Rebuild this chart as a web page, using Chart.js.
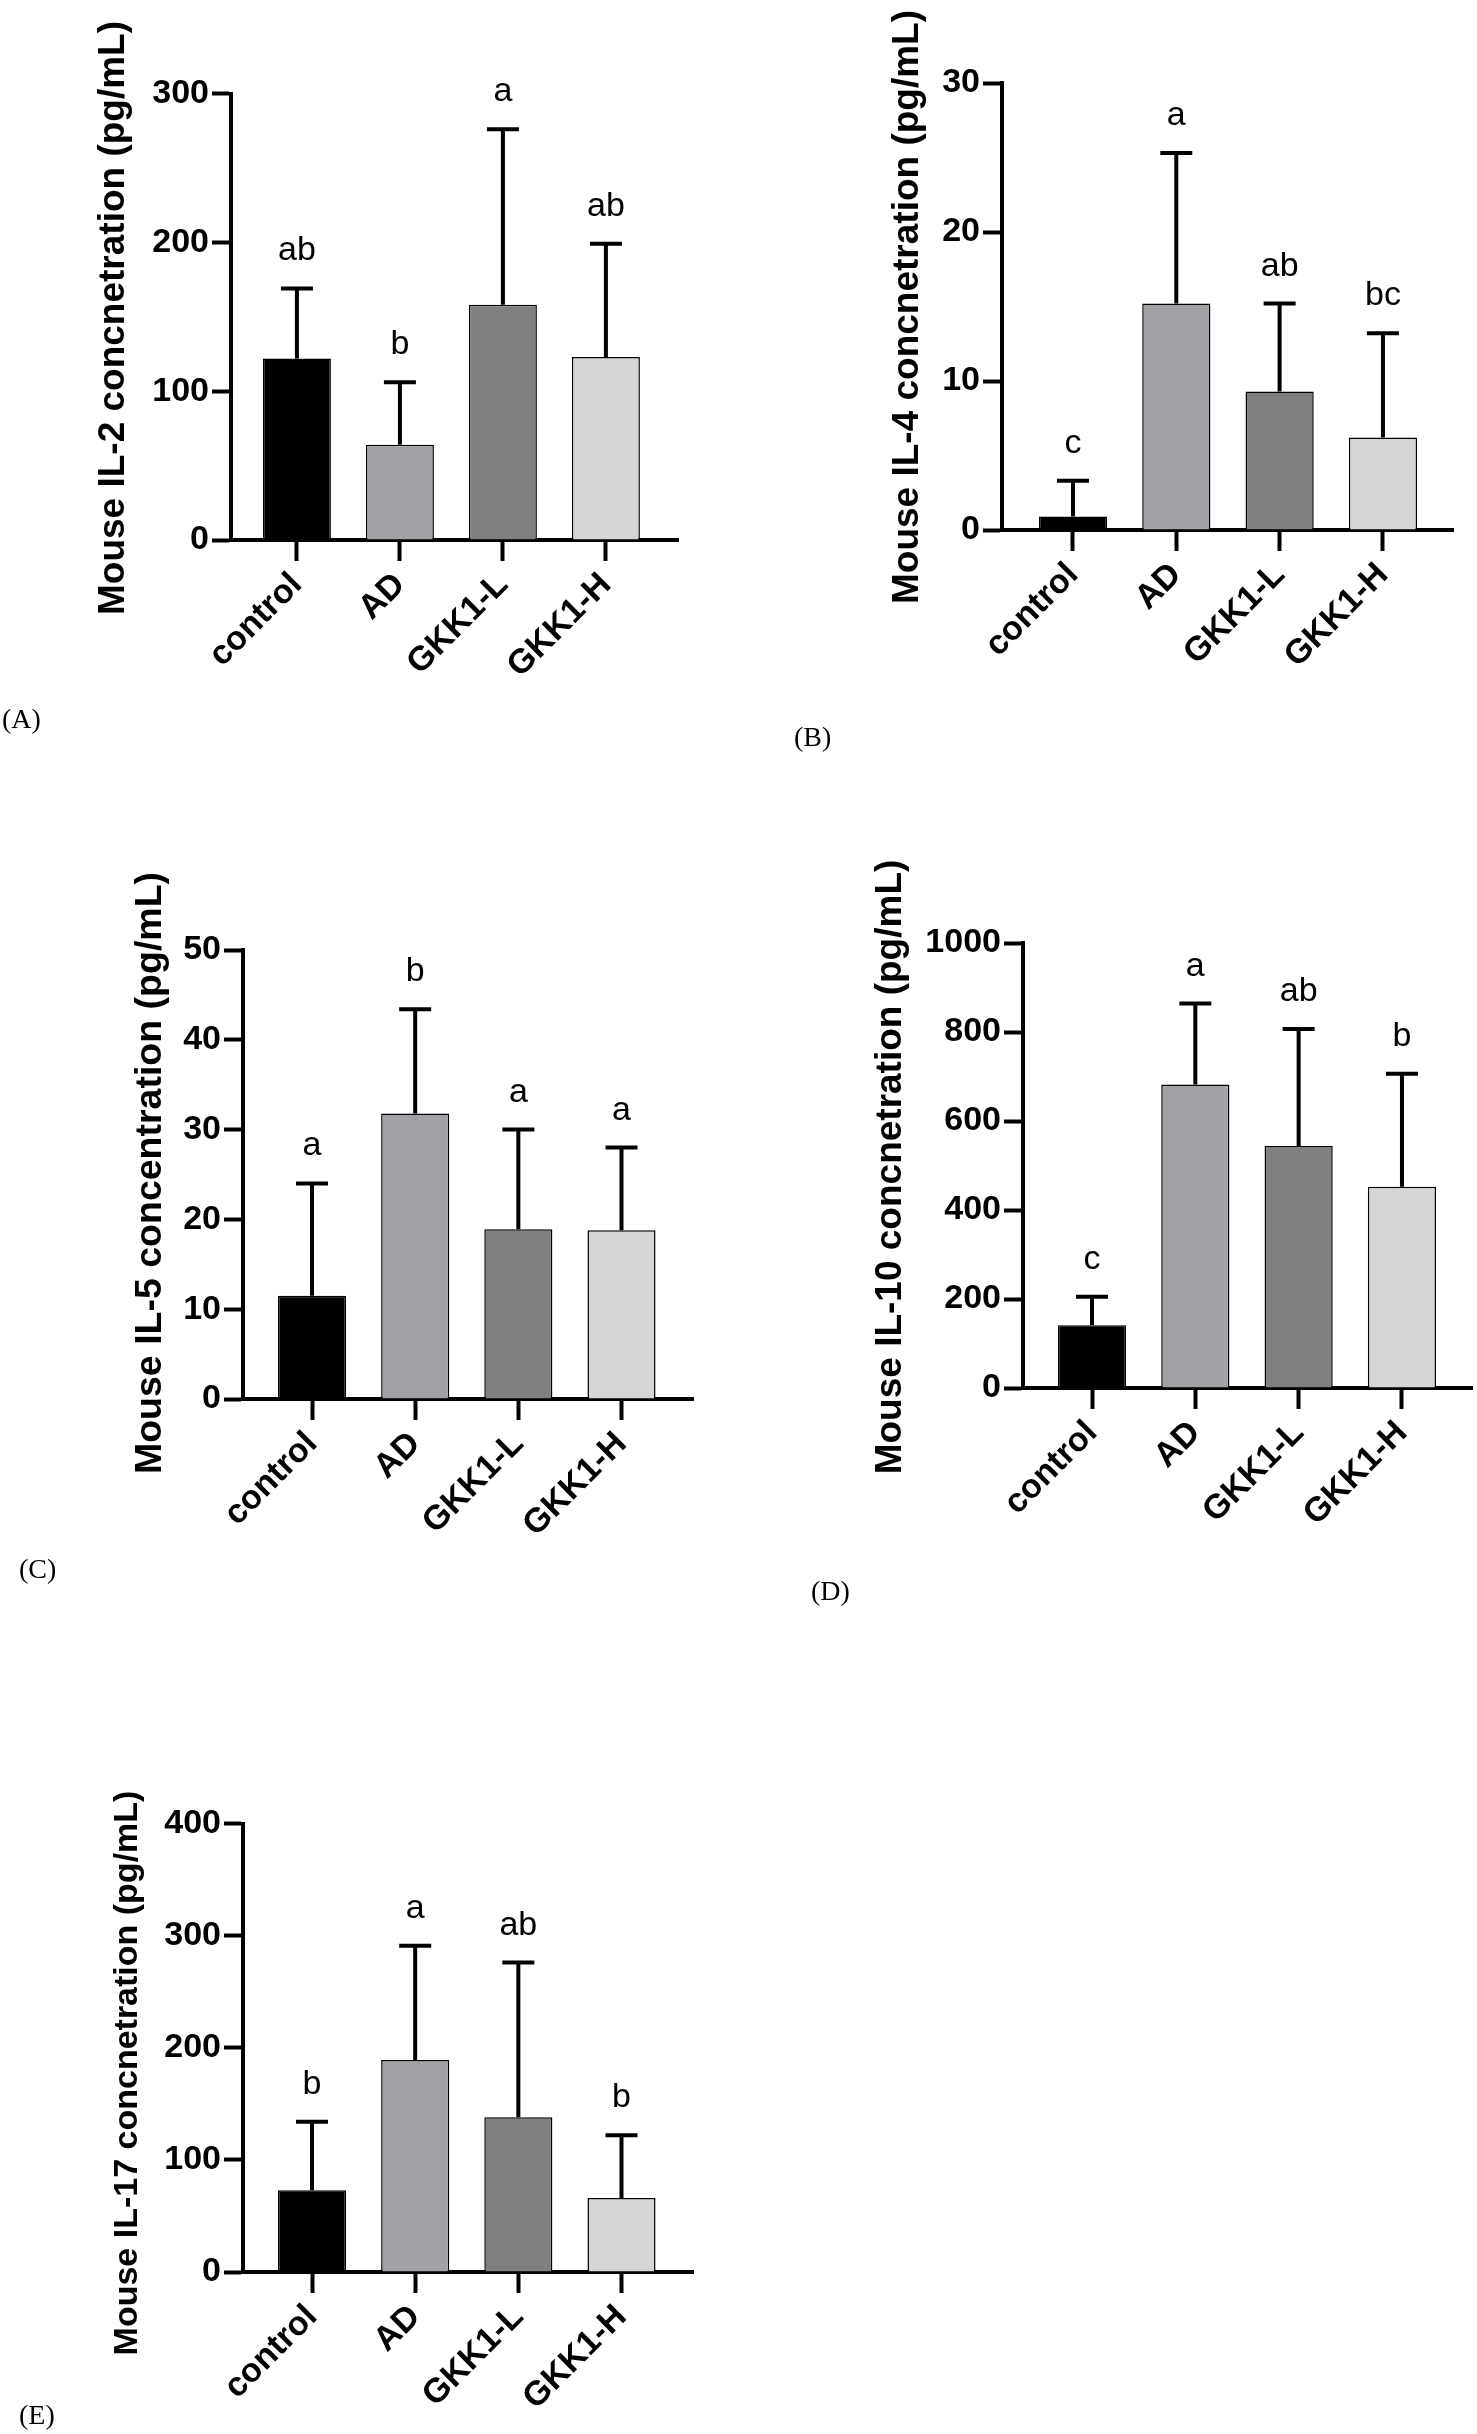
<!DOCTYPE html>
<html>
<head>
<meta charset="utf-8">
<script src="https://cdn.jsdelivr.net/npm/chart.js@4.4.1/dist/chart.umd.min.js"></script>
<style>
  body { margin: 0; background: #fff; }
  #page { position: relative; width: 1477px; height: 2434px; background: #fff; overflow: hidden; }
  #page canvas { position: absolute; }
  .tag { position: absolute; font-family: "Liberation Serif", "Times New Roman", serif; font-size: 28px; color: #000; line-height: 1; }
</style>
</head>
<body>
<div id="page">
  <canvas id="chartA"></canvas>
  <canvas id="chartB"></canvas>
  <canvas id="chartC"></canvas>
  <canvas id="chartD"></canvas>
  <canvas id="chartE"></canvas>
  <div class="tag" style="left:2px; top:705px;">(A)</div>
  <div class="tag" style="left:794px; top:723px;">(B)</div>
  <div class="tag" style="left:19px; top:1555px;">(C)</div>
  <div class="tag" style="left:811px; top:1577px;">(D)</div>
  <div class="tag" style="left:19px; top:2401px;">(E)</div>
</div>
<script>
// groups on the x axis
const groups = ['control', 'AD', 'GKK1-L', 'GKK1-H'];
const barColors = ['#000000', '#a2a1a6', '#808080', '#d5d5d5'];

// IL-2
const il2Mean = [122, 64, 158, 123];
const il2Sd = [47, 42, 118, 76];
const il2Letters = ['ab', 'b', 'a', 'ab'];
const il2Ticks = [0, 100, 200, 300];

// IL-4
const il4Mean = [0.9, 15.2, 9.3, 6.2];
const il4Sd = [2.4, 10.1, 5.9, 7.0];
const il4Letters = ['c', 'a', 'ab', 'bc'];
const il4Ticks = [0, 10, 20, 30];

// IL-5
const il5Mean = [11.5, 31.8, 18.9, 18.8];
const il5Sd = [12.5, 11.6, 11.1, 9.2];
const il5Letters = ['a', 'b', 'a', 'a'];
const il5Ticks = [0, 10, 20, 30, 40, 50];

// IL-10
const il10Mean = [141, 682, 544, 452];
const il10Sd = [64, 182, 263, 254];
const il10Letters = ['c', 'a', 'ab', 'b'];
const il10Ticks = [0, 200, 400, 600, 800, 1000];

// IL-17
const il17Mean = [73, 189, 138, 66];
const il17Sd = [61, 102, 138, 56];
const il17Letters = ['b', 'a', 'ab', 'b'];
const il17Ticks = [0, 100, 200, 300, 400];

const SANS = '"Liberation Sans", Arial, sans-serif';

// where each panel sits on the page
const panels = [
  { id: 'chartA', title: 'Mouse IL-2 concnetration (pg/mL)', mean: il2Mean, sd: il2Sd, letters: il2Letters, ticks: il2Ticks,
    left: 0, top: 0, w: 738, h: 720, axisX: 231, topY: 93.5, zeroY: 540, endX: 678, xMin: -0.64, xMax: 3.70,
    titleX: 114, titleY: 318, titleSize: 37 },
  { id: 'chartB', title: 'Mouse IL-4 concnetration (pg/mL)', mean: il4Mean, sd: il4Sd, letters: il4Letters, ticks: il4Ticks,
    left: 738, top: 0, w: 739, h: 720, axisX: 1002, topY: 83, zeroY: 530, endX: 1453, xMin: -0.687, xMax: 3.678,
    titleX: 908, titleY: 307, titleSize: 37 },
  { id: 'chartC', title: 'Mouse IL-5 concentration (pg/mL)', mean: il5Mean, sd: il5Sd, letters: il5Letters, ticks: il5Ticks,
    left: 0, top: 740, w: 738, h: 840, axisX: 243, topY: 950, zeroY: 1399, endX: 693, xMin: -0.669, xMax: 3.693,
    titleX: 151, titleY: 1173, titleSize: 37.5 },
  { id: 'chartD', title: 'Mouse IL-10 concnetration (pg/mL)', mean: il10Mean, sd: il10Sd, letters: il10Letters, ticks: il10Ticks,
    left: 738, top: 740, w: 739, h: 840, axisX: 1023, topY: 943, zeroY: 1388, endX: 1472, xMin: -0.668, xMax: 3.678,
    titleX: 891, titleY: 1167, titleSize: 37 },
  { id: 'chartE', title: 'Mouse IL-17 concnetration (pg/mL)', mean: il17Mean, sd: il17Sd, letters: il17Letters, ticks: il17Ticks,
    left: 0, top: 1600, w: 738, h: 834, axisX: 243, topY: 1823.5, zeroY: 2272, endX: 693, xMin: -0.669, xMax: 3.693,
    titleX: 128, titleY: 2073, titleSize: 34 }
];

// error bars (upper whisker only), letters and the long rotated axis title
function extrasFor(p) {
  return {
    id: 'extras_' + p.id,
    afterDatasetsDraw(chart) {
      const ctx = chart.ctx;
      const xs = chart.scales.x, ys = chart.scales.y;
      ctx.save();
      ctx.strokeStyle = '#000';
      ctx.fillStyle = '#000';
      ctx.lineWidth = 4;
      ctx.font = '34px ' + SANS;
      ctx.textAlign = 'center';
      ctx.textBaseline = 'alphabetic';
      p.mean.forEach((m, i) => {
        const px = xs.getPixelForValue(i);
        const y0 = ys.getPixelForValue(m);
        const y1 = ys.getPixelForValue(m + p.sd[i]);
        ctx.beginPath();
        ctx.moveTo(px, y0);
        ctx.lineTo(px, y1);
        ctx.moveTo(px - 16, y1);
        ctx.lineTo(px + 16, y1);
        ctx.stroke();
        ctx.fillText(p.letters[i], px, y1 - 28);
      });
      ctx.translate(p.titleX - p.left, p.titleY - p.top);
      ctx.rotate(-Math.PI / 2);
      ctx.font = 'bold ' + p.titleSize + 'px ' + SANS;
      ctx.textBaseline = 'middle';
      ctx.fillText(p.title, 0, 0);
      ctx.restore();
    }
  };
}

panels.forEach(p => {
  const cv = document.getElementById(p.id);
  cv.width = p.w;
  cv.height = p.h;
  cv.style.left = p.left + 'px';
  cv.style.top = p.top + 'px';
  cv.style.width = p.w + 'px';
  cv.style.height = p.h + 'px';

  new Chart(cv, {
    type: 'bar',
    data: {
      datasets: [{
        data: p.mean.map((v, i) => ({ x: i, y: v })),
        backgroundColor: barColors,
        borderColor: '#000',
        borderWidth: 1.5,
        categoryPercentage: 1,
        barPercentage: 0.66
      }]
    },
    options: {
      responsive: false,
      animation: false,
      events: [],
      layout: { padding: { left: 0, top: p.topY - p.top, right: p.left + p.w - p.endX, bottom: 0 } },
      plugins: { legend: { display: false }, tooltip: { enabled: false } },
      scales: {
        x: {
          type: 'linear',
          min: p.xMin,
          max: p.xMax,
          offset: false,
          afterBuildTicks: s => { s.ticks = groups.map((g, i) => ({ value: i })); },
          afterFit: s => { s.height = p.top + p.h - p.zeroY; },
          grid: { offset: false, drawOnChartArea: false, drawTicks: true, tickLength: 21, tickWidth: 4, color: '#000' },
          border: { display: true, color: '#000', width: 4 },
          ticks: {
            autoSkip: false,
            minRotation: 45,
            maxRotation: 45,
            padding: 4,
            color: '#000',
            font: { family: SANS, size: 34, weight: 'bold' },
            callback: v => groups[v]
          }
        },
        y: {
          min: 0,
          max: p.ticks[p.ticks.length - 1],
          afterBuildTicks: s => { s.ticks = p.ticks.map(v => ({ value: v })); },
          afterFit: s => { s.width = p.axisX - p.left; },
          grid: { drawOnChartArea: false, drawTicks: true, tickLength: 19, tickWidth: 4, color: '#000' },
          border: { display: true, color: '#000', width: 4 },
          ticks: {
            padding: 3,
            color: '#000',
            font: { family: SANS, size: 34, weight: 'bold' },
            callback: v => String(v)
          }
        }
      }
    },
    plugins: [extrasFor(p)]
  });
});
</script>
</body>
</html>
